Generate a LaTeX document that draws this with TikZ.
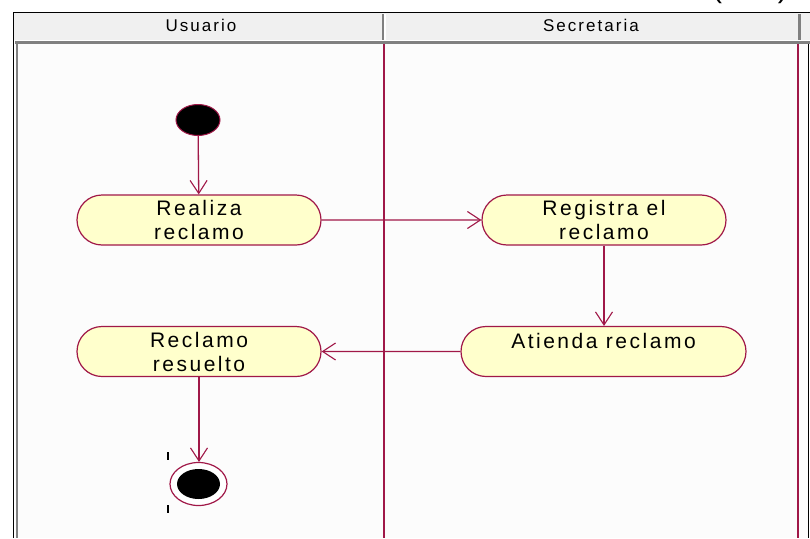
\documentclass[tikz,border=0pt]{standalone}
\usepackage{fontspec}
\setmainfont{Liberation Sans}
\usetikzlibrary{shapes.misc,shapes.geometric,arrows.meta}
\definecolor{uml}{RGB}{160,24,72}
\definecolor{actfill}{RGB}{255,255,204}
\definecolor{hdr}{RGB}{240,240,240}
\definecolor{frm}{RGB}{128,128,128}
\begin{document}
\begin{tikzpicture}[x=1pt,y=-1pt,
  act/.style={rounded rectangle, draw=uml, fill=actfill, line width=1.2pt,
    minimum width=244pt, minimum height=50pt, align=center, inner sep=0pt,
    font=\fontsize{21}{24}\selectfont\addfontfeature{LetterSpace=12}},
  flow/.style={draw=uml, line width=1.3pt, -{Straight Barb[length=13pt,width=17pt,line width=1.1pt]}},
  hdrtext/.style={font=\fontsize{17}{18}\selectfont\addfontfeature{LetterSpace=12}},
  lane/.style={draw=uml, line width=1.5pt},
  tick/.style={draw=black, line width=2pt}]
\useasboundingbox (0,0) rectangle (810,538);
% outer frame and header
\fill[white] (0,0) rectangle (810,538);
\fill[hdr] (13,12) rectangle (810,40);
\fill[white!99!black] (15,44) rectangle (808,538);
\draw[black, line width=1.2pt] (13.5,538) -- (13.5,12.5) -- (810,12.5);
\draw[frm, line width=3pt] (15,42) -- (810,42);
\draw[frm, line width=2pt] (16.5,42) -- (16.5,538);
\draw[white, line width=1.5pt] (385,14) -- (385,40);
\draw[frm, line width=1.2pt] (383,14) -- (383,40);
\draw[frm, line width=3pt] (799,14) -- (799,40);
\draw[black, line width=1.2pt] (808.5,44) -- (808.5,538);
\node[hdrtext] (husr) at (201,25) {Usuario};
\node[hdrtext] (hsec) at (591,25) {Secretaria};
% cut-off text at the top right
\node[font=\fontsize{30}{30}\selectfont, anchor=base] (cut) at (750,-2) {(\hspace{56pt})};
% lanes
\draw[lane] (384,44) -- (384,538);
\draw[lane] (798,44) -- (798,538);
% nodes
\node[ellipse, fill=black, draw=uml, line width=1pt, minimum width=44pt, minimum height=31pt, inner sep=0pt] (start) at (198,120) {};
\node[act] (realiza) at (199,220) {Realiza\\reclamo};
\node[act] (registra) at (604,220) {Registra el\\reclamo};
\node[act, minimum width=285pt] (atienda) at (603.5,351.5) {Atienda reclamo\\[-2pt]\phantom{x}};
\node[act] (resuelto) at (199,351.5) {Reclamo\\resuelto};
\node[ellipse, fill=white, draw=uml, line width=1.2pt, minimum width=57pt, minimum height=43pt, inner sep=0pt] (fin) at (198.5,484) {};
\node[ellipse, fill=black, minimum width=43pt, minimum height=30pt, inner sep=0pt] (finin) at (fin.center) {};
\draw[tick] (168,452) -- (168,460);
\draw[tick] (168,505) -- (168,513);
% flows
\draw[flow] (start) -- (realiza);
\draw[flow] (realiza) -- (registra);
\draw[flow] (registra.south) -- (registra.south |- atienda.north);
\draw[flow] (atienda) -- (resuelto);
\draw[flow] (resuelto.south) -- (resuelto.south |- fin.north);
\end{tikzpicture}
\end{document}
